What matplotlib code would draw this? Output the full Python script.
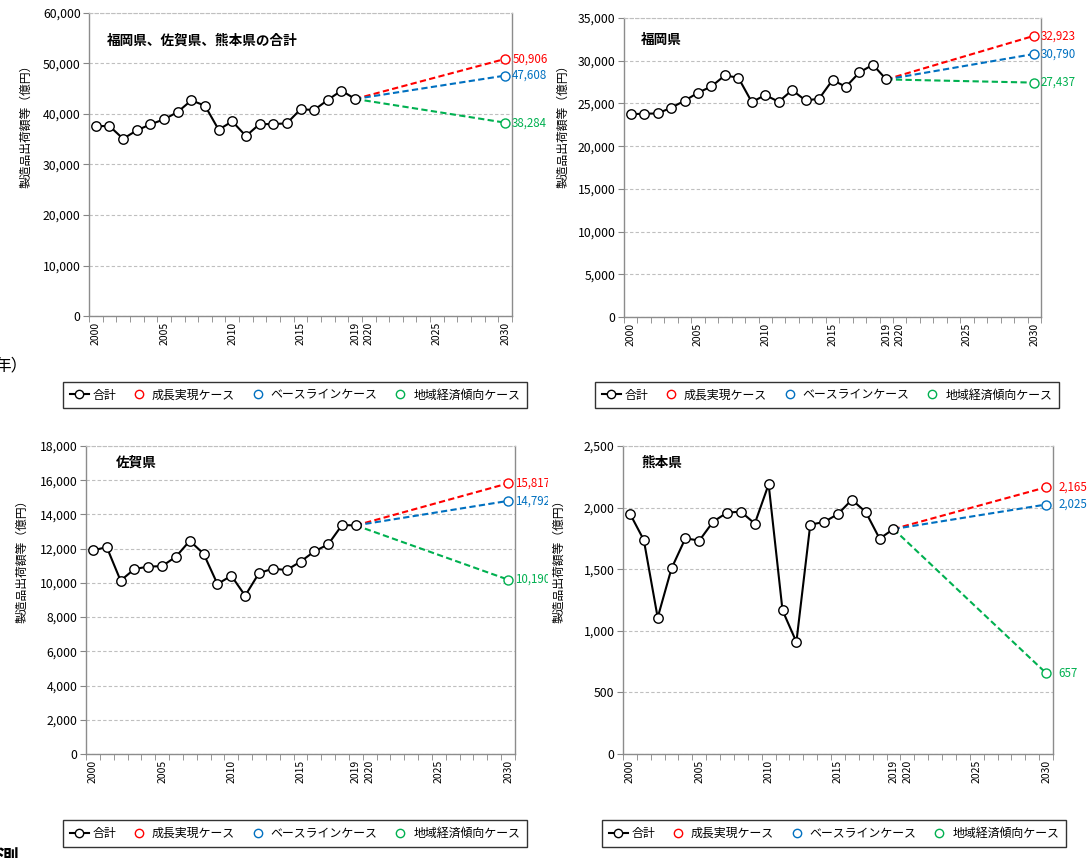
import matplotlib
matplotlib.use("Agg")
import matplotlib.pyplot as plt
import matplotlib.ticker as mticker
import matplotlib.transforms as mtransforms
from matplotlib.lines import Line2D
import numpy as np

plt.rcParams["font.family"] = ["Noto Sans CJK JP", "DejaVu Sans"]

years = list(range(2000, 2020))
proj_years = [2019, 2030]

total = [37616, 37600, 35100, 36750, 37950, 38940, 40400, 42700, 41650, 36890,
         38540, 35630, 38000, 38000, 38150, 40930, 40800, 42780, 44640, 42980]
fukuoka = [23750, 23790, 23830, 24490, 25310, 26250, 26990, 28280, 28010, 25160,
           25980, 25200, 26560, 25350, 25550, 27730, 26950, 28630, 29530, 27810]
saga = [11900, 12090, 10130, 10810, 10950, 10980, 11530, 12460, 11700, 9930,
        10420, 9250, 10570, 10830, 10750, 11240, 11840, 12250, 13380, 13360]
kumamoto = [1951, 1737, 1107, 1507, 1751, 1732, 1886, 1959, 1967, 1870,
            2189, 1166, 909, 1862, 1883, 1948, 2064, 1964, 1748, 1826]

# 2030 values: growth, baseline, regional trend
proj_total = [50906, 47608, 38284]
proj_fukuoka = [32923, 30790, 27437]
proj_saga = [15817, 14792, 10190]
proj_kumamoto = [2165, 2025, 657]

titles = ["福岡県、佐賀県、熊本県の合計", "福岡県", "佐賀県", "熊本県"]
case_names = ["成長実現ケース", "ベースラインケース", "地域経済傾向ケース"]
case_colors = ["#FF0000", "#0070C0", "#00B050"]
ylabel = "製造品出荷額等（億円）"

W, H = 1089, 858
fig = plt.figure(figsize=(W / 100, H / 100), dpi=100)


def px_rect(x0, y0, x1, y1):
    return [x0 / W, 1 - y1 / H, (x1 - x0) / W, (y1 - y0) / H]


panels = [
    dict(rect=px_rect(89, 13, 512, 316), hist=total, proj=proj_total, ymax=60000, ystep=10000,
         title_xy=(0.043, 0.91), ylab_x=26, ylab_y=123, leg=(295, 395), lab_off=7, clip=None),
    dict(rect=px_rect(624, 18, 1041, 317), hist=fukuoka, proj=proj_fukuoka, ymax=35000, ystep=5000,
         title_xy=(0.041, 0.925), ylab_x=563, ylab_y=123, leg=(827, 395), lab_off=6.5, clip=None),
    dict(rect=px_rect(86, 446, 515, 754), hist=saga, proj=proj_saga, ymax=18000, ystep=2000,
         title_xy=(0.07, 0.945), ylab_x=22, ylab_y=558, leg=(295, 833.5), lab_off=7, clip=548),
    dict(rect=px_rect(623, 446, 1053, 754), hist=kumamoto, proj=proj_kumamoto, ymax=2500, ystep=500,
         title_xy=(0.042, 0.945), ylab_x=559, ylab_y=558, leg=(834, 833.5), lab_off=12, clip=None),
]

for i, p in enumerate(panels):
    ax = fig.add_axes(p["rect"])
    last = p["hist"][-1]
    for val, c in zip(p["proj"], case_colors):
        ax.plot(proj_years, [last, val], color=c, lw=1.5, ls=(0, (3, 1.6)), zorder=3)
        ax.plot([2030], [val], marker="o", ms=6.5, mfc="white", mec=c, mew=1.0, ls="none", zorder=4)
        t = ax.annotate(f"{val:,}", xy=(2030, val), xytext=(p["lab_off"], 0),
                        textcoords="offset pixels", color=c, fontsize=8.3,
                        va="center", ha="left", annotation_clip=False)
        if p["clip"] is not None:
            t.set_clip_box(mtransforms.TransformedBbox(
                mtransforms.Bbox([[0, 0], [p["clip"] / W, 1]]), fig.transFigure))
            t.set_clip_on(True)
    ax.plot(years, p["hist"], color="black", lw=1.5, marker="o", ms=6.8,
            mfc="white", mec="black", mew=1.0, zorder=5)

    ax.set_xlim(1999.5, 2030.5)
    ax.set_ylim(0, p["ymax"])
    ax.set_yticks(np.arange(0, p["ymax"] + 1, p["ystep"]))
    ax.yaxis.set_major_formatter(mticker.FuncFormatter(lambda v, _: f"{int(v):,}"))
    ax.set_xticks([2000, 2005, 2010, 2015, 2019, 2020, 2025, 2030])
    ax.set_xticks(np.arange(1999.5, 2031, 1), minor=True)
    ax.tick_params(axis="x", which="major", length=0, labelsize=7.5, labelrotation=90, pad=4)
    ax.tick_params(axis="x", which="minor", length=4, color="#868686", direction="out")
    ax.tick_params(axis="y", length=4, color="#868686", labelsize=8.8, pad=2)
    ax.grid(axis="y", color="#BFBFBF", ls=(0, (3, 2)), lw=0.8)
    ax.set_axisbelow(True)
    for s in ["left", "bottom", "right"]:
        ax.spines[s].set_color("#8C8C8C")
        ax.spines[s].set_linewidth(1.0)
    ax.spines["top"].set_color("#BFBFBF")
    ax.spines["top"].set_linestyle((0, (3, 2)))

    ax.text(p["title_xy"][0], p["title_xy"][1], titles[i], transform=ax.transAxes,
            fontsize=9.8, fontweight="bold", va="center", ha="left")
    fig.text(p["ylab_x"] / W, 1 - p["ylab_y"] / H, ylabel, rotation=90,
             fontsize=8.5, va="center", ha="center")

    handles = [Line2D([], [], color="black", lw=1.5, marker="o", ms=6, mfc="white", mec="black")]
    handles += [Line2D([], [], ls="none", marker="o", ms=6, mfc="white", mec=c) for c in case_colors]
    leg = fig.legend(handles, ["合計"] + case_names, loc="center",
                     bbox_to_anchor=(p["leg"][0] / W, 1 - p["leg"][1] / H), ncol=4,
                     fontsize=8.6, frameon=True, fancybox=False, edgecolor="black",
                     handlelength=1.6, handletextpad=0.3, columnspacing=1.1, borderpad=0.55)
    leg.get_frame().set_linewidth(1.0)

# stray text from the surrounding page
fig.text(-6 / W, 1 - 366 / H, "年）", fontsize=12, va="center", ha="left")
fig.text(-3 / W, 1 - 858 / H, "測", fontsize=15, fontweight="bold", va="center", ha="left")

fig.savefig("out.png", dpi=100)
